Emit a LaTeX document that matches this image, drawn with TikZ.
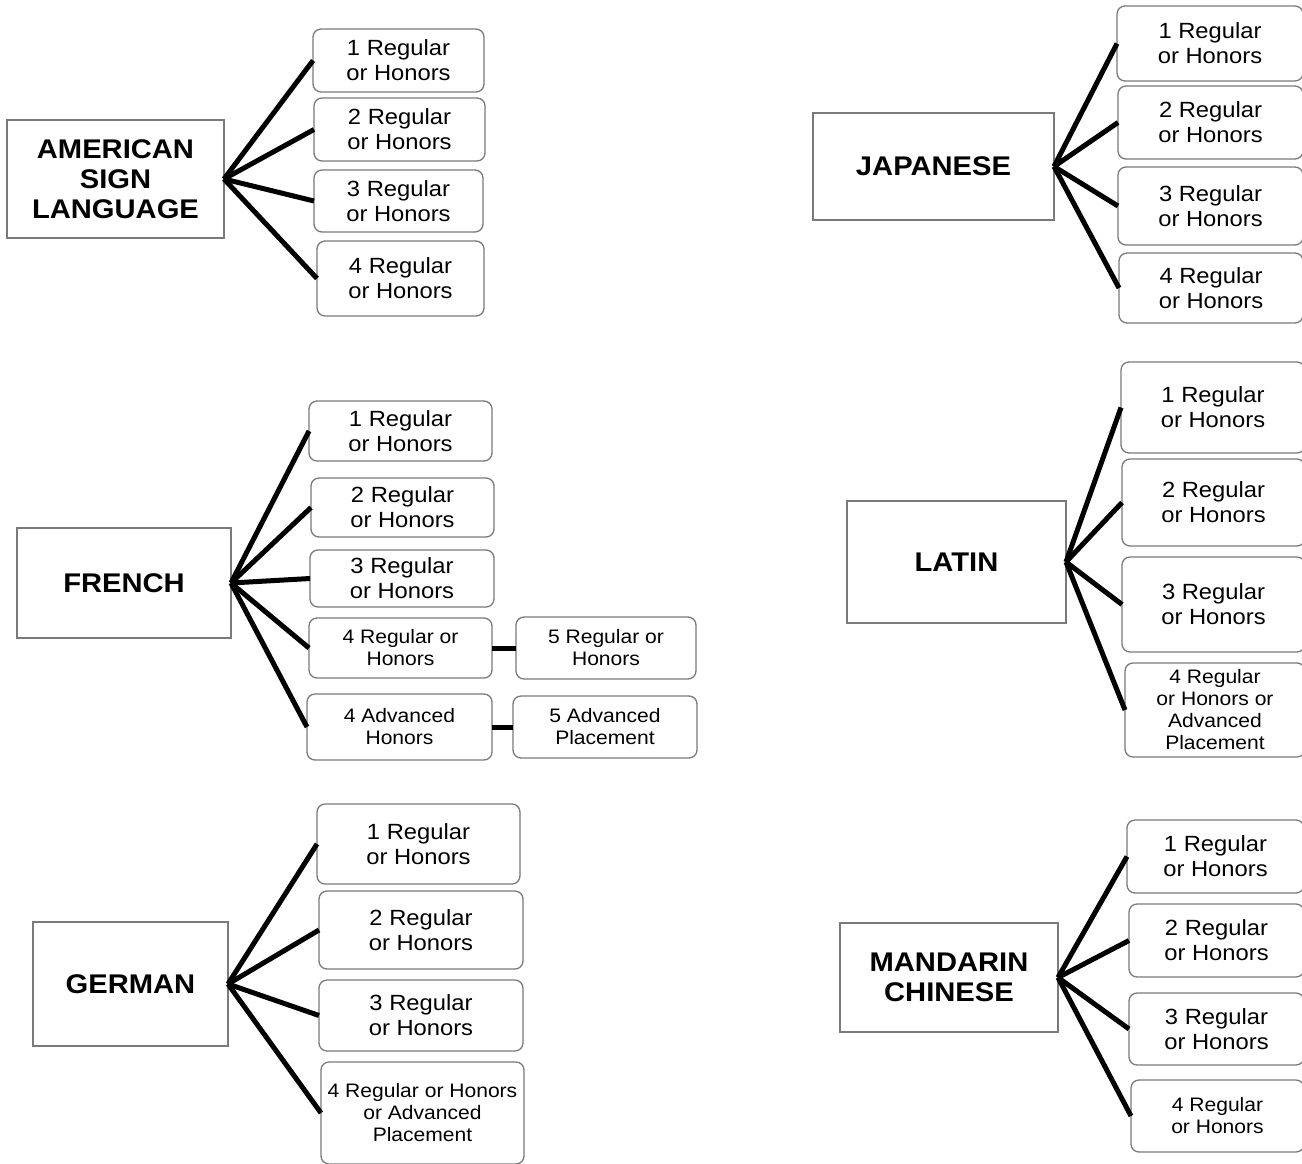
\documentclass[tikz,border=0pt]{standalone}
\usepackage{fontspec}
\setmainfont{Liberation Sans}[FakeStretch=1.08]
\definecolor{boxgray}{HTML}{7A7A7A}
\tikzset{
  mainbox/.style={draw=boxgray, line width=1.3pt, fill=white, inner sep=0pt, outer sep=0pt, align=center,
    font=\fontsize{27}{30}\selectfont\bfseries},
  kid/.style={draw=boxgray, line width=1.3pt, rounded corners=8pt, fill=white, inner sep=0pt, outer sep=0pt, align=center,
    font=\fontsize{22}{25}\selectfont},
  smallkid/.style={kid, font=\fontsize{19.5}{22}\selectfont},
  link/.style={line width=5pt, black}
}
\begin{document}
\begin{tikzpicture}[x=1pt,y=-1pt]
\useasboundingbox (0,0) rectangle (1302,1163);
\clip (0,0) rectangle (1302,1163);
\fill[white] (0,0) rectangle (1302,1163);

% ---------- American Sign Language ----------
\node[mainbox, minimum width=217, minimum height=118] (asl) at (115.5,179) {AMERICAN\\SIGN\\LANGUAGE};
\node[kid, minimum width=171, minimum height=63] (a1) at (398.5,60.5) {1 Regular\\or Honors};
\node[kid, minimum width=171, minimum height=63] (a2) at (399.5,129.5) {2 Regular\\or Honors};
\node[kid, minimum width=169, minimum height=62] (a3) at (398.5,201) {3 Regular\\or Honors};
\node[kid, minimum width=167, minimum height=75] (a4) at (400.5,278.5) {4 Regular\\or Honors};
\foreach \k in {a1,a2,a3,a4} \draw[link] (asl.east) -- (\k.west);

% ---------- French ----------
\node[mainbox, minimum width=214, minimum height=110] (fr) at (124,583) {FRENCH};
\node[kid, minimum width=183, minimum height=60] (f1) at (400.5,431) {1 Regular\\or Honors};
\node[kid, minimum width=183, minimum height=59] (f2) at (402.5,507.5) {2 Regular\\or Honors};
\node[kid, minimum width=184, minimum height=57] (f3) at (402,578.5) {3 Regular\\or Honors};
\node[smallkid, minimum width=183, minimum height=60] (f4) at (400.5,648) {4 Regular or\\Honors};
\node[smallkid, minimum width=185, minimum height=66] (f4a) at (399.5,727) {4 Advanced\\Honors};
\node[smallkid, minimum width=180, minimum height=62] (f5) at (606,648) {5 Regular or\\Honors};
\node[smallkid, minimum width=184, minimum height=62] (f5a) at (605,727) {5 Advanced\\Placement};
\foreach \k in {f1,f2,f3,f4,f4a} \draw[link] (fr.east) -- (\k.west);
\draw[link] (f4.east) -- (f5.west);
\draw[link] (f4a.east) -- (f5a.west);

% ---------- German ----------
\node[mainbox, minimum width=195, minimum height=124] (ge) at (130.5,984) {GERMAN};
\node[kid, minimum width=203, minimum height=80] (g1) at (418.5,844) {1 Regular\\or Honors};
\node[kid, minimum width=204, minimum height=78] (g2) at (421,930) {2 Regular\\or Honors};
\node[kid, minimum width=204, minimum height=71] (g3) at (421,1015.5) {3 Regular\\or Honors};
\node[smallkid, minimum width=203, minimum height=102] (g4) at (422.5,1113) {4 Regular or Honors\\or Advanced\\Placement};
\foreach \k in {g1,g2,g3,g4} \draw[link] (ge.east) -- (\k.west);

% ---------- Japanese ----------
\node[mainbox, minimum width=241, minimum height=107] (ja) at (933.5,166.5) {JAPANESE};
\node[kid, minimum width=186, minimum height=75] (j1) at (1210,43.5) {1 Regular\\or Honors};
\node[kid, minimum width=185, minimum height=73] (j2) at (1210.5,122.5) {2 Regular\\or Honors};
\node[kid, minimum width=185, minimum height=78] (j3) at (1210.5,206) {3 Regular\\or Honors};
\node[kid, minimum width=184, minimum height=70] (j4) at (1211,288) {4 Regular\\or Honors};
\foreach \k in {j1,j2,j3,j4} \draw[link] (ja.east) -- (\k.west);

% ---------- Latin ----------
\node[mainbox, minimum width=219, minimum height=122] (la) at (956.5,562) {LATIN};
\node[kid, minimum width=184, minimum height=91] (l1) at (1213,407.5) {1 Regular\\or Honors};
\node[kid, minimum width=183, minimum height=87] (l2) at (1213.5,502.5) {2 Regular\\or Honors};
\node[kid, minimum width=183, minimum height=95] (l3) at (1213.5,604.5) {3 Regular\\or Honors};
\node[smallkid, minimum width=180, minimum height=94] (l4) at (1215,710) {4 Regular\\or Honors or\\Advanced\\Placement};
\foreach \k in {l1,l2,l3,l4} \draw[link] (la.east) -- (\k.west);

% ---------- Mandarin Chinese ----------
\node[mainbox, minimum width=218, minimum height=109] (ma) at (949,977.5) {MANDARIN\\CHINESE};
\node[kid, minimum width=177, minimum height=73] (m1) at (1215.5,856.5) {1 Regular\\or Honors};
\node[kid, minimum width=175, minimum height=73] (m2) at (1216.5,940.5) {2 Regular\\or Honors};
\node[kid, minimum width=175, minimum height=72] (m3) at (1216.5,1029) {3 Regular\\or Honors};
\node[smallkid, minimum width=173, minimum height=72] (m4) at (1217.5,1116) {4 Regular\\or Honors};
\foreach \k in {m1,m2,m3,m4} \draw[link] (ma.east) -- (\k.west);
\end{tikzpicture}
\end{document}
